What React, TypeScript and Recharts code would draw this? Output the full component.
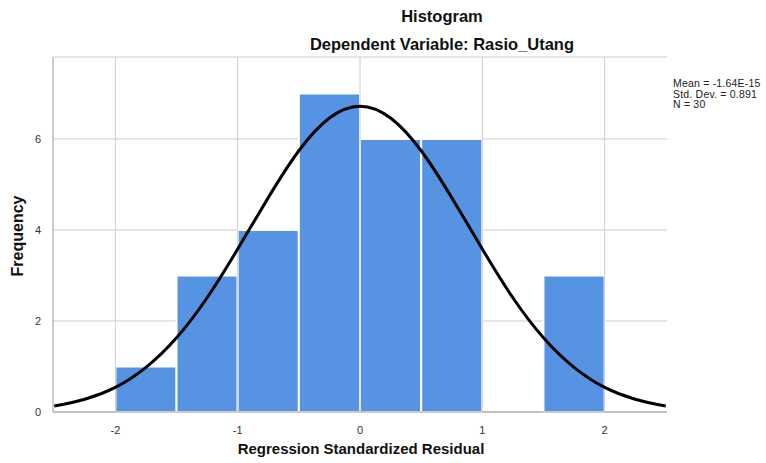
import { ComposedChart, Line, XAxis, YAxis, CartesianGrid, ReferenceArea, ReferenceLine } from 'recharts'

// histogram bins (standardized residual), width 0.5
const binStart = [-2, -1.5, -1, -0.5, 0, 0.5, 1, 1.5]
const binEnd = [-1.5, -1, -0.5, 0, 0.5, 1, 1.5, 2]
const binCount = [1, 3, 4, 7, 6, 6, 0, 3]

// normal curve
const curveX = [-2.5, -2.25, -2, -1.75, -1.5, -1.25, -1, -0.75, -0.5, -0.25, 0, 0.25, 0.5, 0.75, 1, 1.25, 1.5, 1.75, 2, 2.25, 2.5]
const curveY = [0.13, 0.28, 0.54, 0.98, 1.63, 2.51, 3.58, 4.71, 5.74, 6.46, 6.72, 6.46, 5.74, 4.71, 3.58, 2.51, 1.63, 0.98, 0.54, 0.28, 0.13]

const xTicks = [-2, -1, 0, 1, 2]
const yTicks = [0, 2, 4, 6]
const stats = ['Mean = -1.64E-15', 'Std. Dev. = 0.891', 'N = 30']

const curve = curveX.map((x, i) => ({ x, y: curveY[i] }))

const font = 'Arial, "Liberation Sans", sans-serif'

export default function App() {
  return (
    <div style={{ position: 'absolute', left: 0, top: 0, width: 766, height: 463, background: '#fff', fontFamily: font }}>
      <ComposedChart width={766} height={463} data={curve} margin={{ top: 57, right: 99, bottom: 21, left: 8 }}>
        <CartesianGrid stroke="#cccccc" strokeWidth={1} vertical={false} />
        <XAxis
          dataKey="x"
          type="number"
          domain={[-2.51, 2.51]}
          ticks={xTicks}
          allowDataOverflow
          height={30}
          tickLine={false}
          axisLine={{ stroke: '#999' }}
          tick={{ fontSize: 11, fill: '#333', fontFamily: font }}
          tickMargin={8}
        />
        <YAxis
          type="number"
          domain={[0, 7.8]}
          ticks={yTicks}
          allowDataOverflow
          width={45}
          tickLine={false}
          axisLine={{ stroke: '#999' }}
          tick={{ fontSize: 11, fill: '#333', fontFamily: font }}
          tickMargin={6}
        />
        {/* vertical grid only at the ticks, no right border */}
        {xTicks.map((t) => (
          <ReferenceLine key={'g' + t} x={t} stroke="#cccccc" strokeWidth={1} />
        ))}
        {binCount.map((c, i) =>
          c > 0 ? (
            <ReferenceArea
              key={i}
              x1={binStart[i]}
              x2={binEnd[i]}
              y1={0}
              y2={c}
              fill="#5694e3"
              fillOpacity={1}
              stroke="#ffffff"
              strokeWidth={2}
            />
          ) : null
        )}
        <Line
          type="natural"
          dataKey="y"
          stroke="#000"
          strokeWidth={3}
          dot={false}
          activeDot={false}
          isAnimationActive={false}
        />
      </ComposedChart>

      <div style={{ position: 'absolute', left: 0, width: 884, top: 7, textAlign: 'center', fontSize: 16.5, fontWeight: 'bold', color: '#111' }}>
        Histogram
      </div>
      <div style={{ position: 'absolute', left: 0, width: 884, top: 35, textAlign: 'center', fontSize: 16.5, fontWeight: 'bold', color: '#111' }}>
        Dependent Variable: Rasio_Utang
      </div>
      <div style={{ position: 'absolute', left: 673, top: 78, fontSize: 10.5, lineHeight: '10.5px', letterSpacing: 0.2, color: '#222' }}>
        {stats.map((s) => (
          <div key={s}>{s}</div>
        ))}
      </div>
      <div style={{ position: 'absolute', left: 0, width: 722, top: 440, textAlign: 'center', fontSize: 15, fontWeight: 'bold', color: '#111' }}>
        Regression Standardized Residual
      </div>
      <div
        style={{
          position: 'absolute',
          left: 18,
          top: 236,
          transform: 'translate(-50%, -50%) rotate(-90deg)',
          fontSize: 16,
          fontWeight: 'bold',
          color: '#111',
          whiteSpace: 'nowrap',
        }}
      >
        Frequency
      </div>
    </div>
  )
}
